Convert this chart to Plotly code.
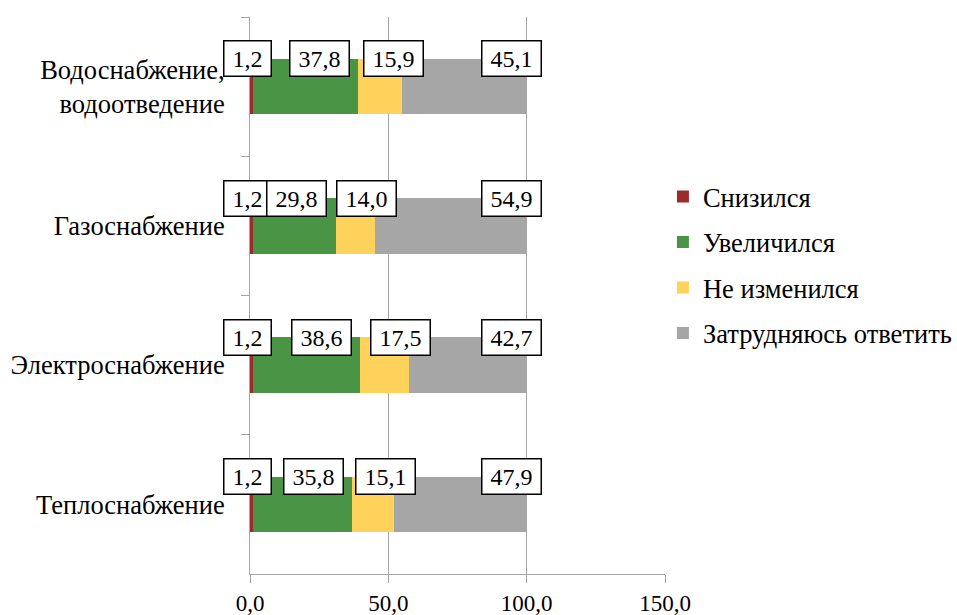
import plotly.graph_objects as go

categories = ["Водоснабжение,<br>водоотведение", "Газоснабжение", "Электроснабжение", "Теплоснабжение"]
series_names = ["Снизился", "Увеличился", "Не изменился", "Затрудняюсь ответить"]
decreased = [1.2, 1.2, 1.2, 1.2]
increased = [37.8, 29.8, 38.6, 35.8]
unchanged = [15.9, 14.0, 17.5, 15.1]
hard_to_say = [45.1, 54.9, 42.7, 47.9]
x_ticks = [0, 50, 100, 150]

series_values = [decreased, increased, unchanged, hard_to_say]
colors = ["#9C2B2D", "#4A9446", "#FFD25C", "#A6A6A6"]

def fmt(v):
    return f"{v:.1f}".replace(".", ",")

FONT = "Liberation Serif"
FS_TICK = 23
FS_CAT = 26.5
FS_LABEL = 24

fig = go.Figure()
for name, vals, col in zip(series_names, series_values, colors):
    fig.add_trace(go.Bar(
        y=categories, x=vals, name=name, orientation="h",
        marker=dict(color=col, line=dict(width=0)),
        width=0.4, legendgroup=name,
    ))

# data labels (boxed), placed near the top edge of each bar
annotations = []
for i in range(len(categories)):
    start = 0.0
    for k, vals in enumerate(series_values):
        v = vals[i]
        end = start + v
        shift = 0
        if k == 0:
            lx, anchor, shift = start + v / 2, "center", -4
        elif k == 1:
            lx, anchor = end - 3.0, "right"
        elif k == 2:
            lx, anchor = end - 3.0, "center"
        else:
            lx, anchor = end - 5.5, "center"
        annotations.append(dict(
            x=lx, y=i - 0.2, xref="x", yref="y",
            text="\u00a0" + fmt(v) + "\u00a0",
            showarrow=False, xanchor=anchor, yanchor="middle", xshift=shift,
            height=30, valign="middle",
            font=dict(family=FONT, size=FS_LABEL, color="black"),
            bgcolor="white", bordercolor="black", borderwidth=1.5, borderpad=2,
        ))
        start = end

fig.update_layout(
    width=957, height=615,
    margin=dict(l=250, r=292, t=17, b=41, autoexpand=False),
    paper_bgcolor="white", plot_bgcolor="white",
    barmode="stack",
    font=dict(family=FONT, size=FS_TICK, color="black"),
    annotations=annotations,
    showlegend=True,
    legend=dict(
        x=0.995, xanchor="left", xref="paper", y=0.555, yanchor="middle",
        traceorder="grouped", tracegroupgap=8,
        font=dict(family=FONT, size=FS_CAT, color="black"),
        bgcolor="rgba(0,0,0,0)",
    ),
    bargap=0.6,
)
fig.update_xaxes(
    range=[0, 150], tickvals=x_ticks, ticktext=[fmt(t) for t in x_ticks],
    showgrid=True, gridcolor="#A6A6A6", gridwidth=1,
    showline=True, linecolor="#A6A6A6", linewidth=1,
    ticks="outside", ticklen=8, tickcolor="#A6A6A6",
    zeroline=False, tickfont=dict(family=FONT, size=FS_TICK), automargin=False,
)
fig.update_yaxes(
    autorange="reversed", type="category",
    showline=True, linecolor="#A6A6A6", linewidth=1,
    ticks="outside", ticklen=8, tickcolor="#A6A6A6", tickson="boundaries",
    showgrid=False, zeroline=False, ticklabelstandoff=19,
    tickfont=dict(family=FONT, size=FS_CAT), automargin=False,
)

fig.write_html("out.html", config={"displayModeBar": False},
               post_script="document.body.style.margin='0';")
